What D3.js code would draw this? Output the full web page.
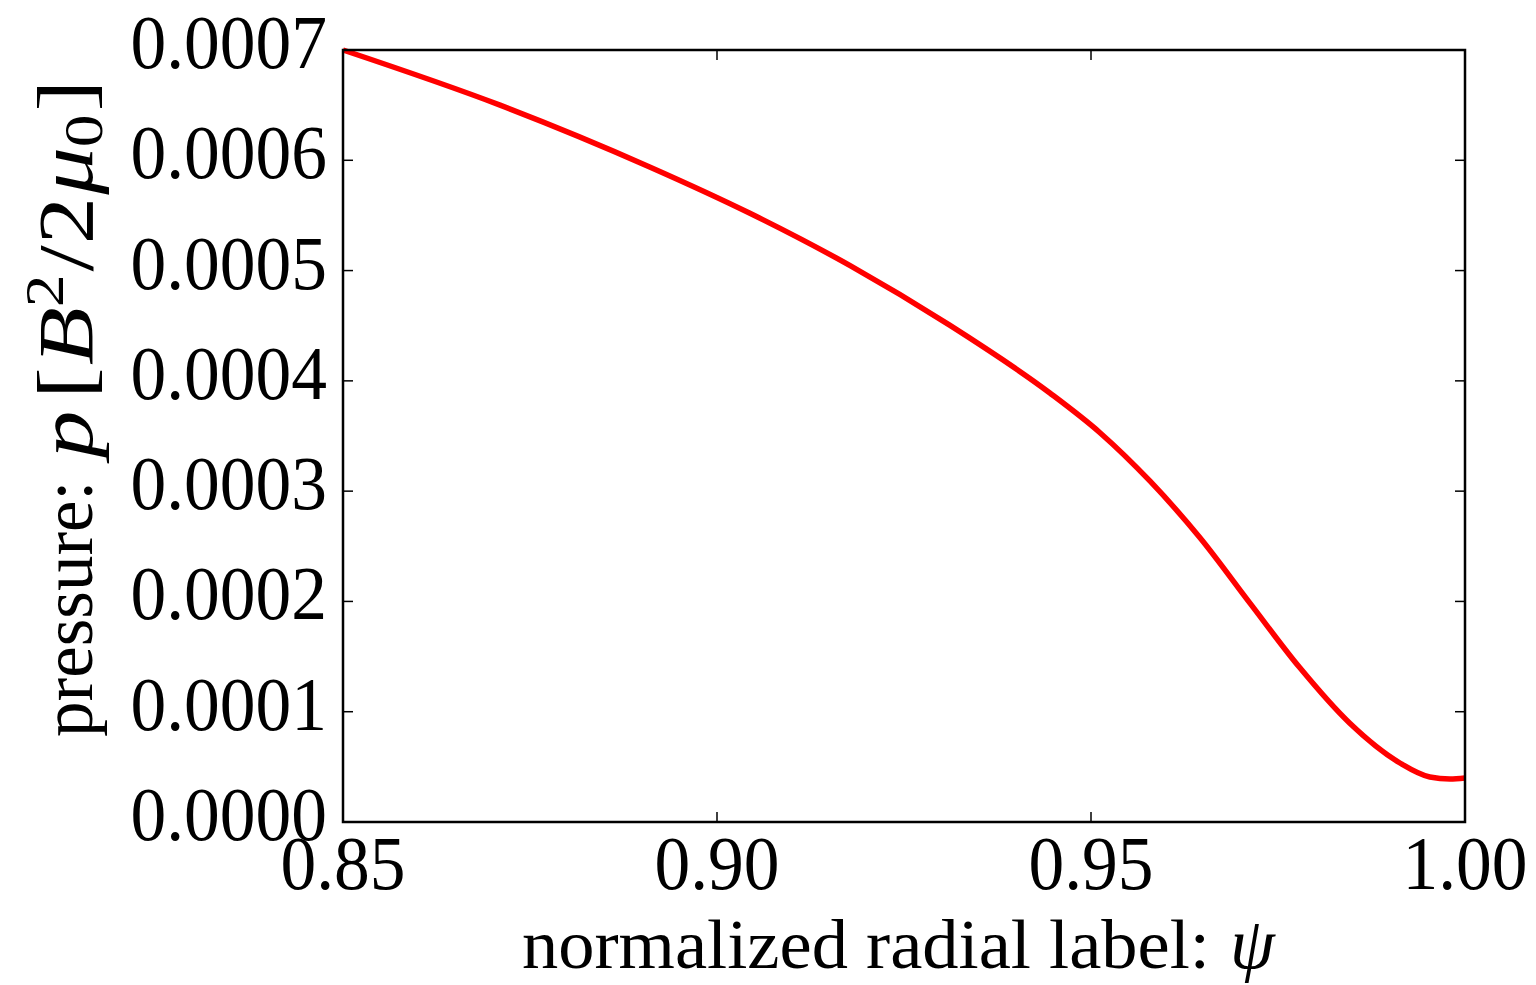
<!DOCTYPE html>
<html>
<head>
<meta charset="utf-8">
<script src="https://cdn.jsdelivr.net/npm/d3@7"></script>
<style>
  html, body { margin: 0; padding: 0; background: #fff; }
  svg { display: block; }
  text { font-family: "Liberation Serif", "DejaVu Serif", serif; fill: #000; }
</style>
</head>
<body>
<svg id="chart" width="1536" height="985"></svg>
<script>
// Data
const psi = [0.8500, 0.8710, 0.8910, 0.9044, 0.9178, 0.9311, 0.9445, 0.9512, 0.9579,
             0.9646, 0.9713, 0.9779, 0.9846, 0.9913, 0.9953, 0.9980, 1.0000];
const pressure = [7.00e-4, 6.50e-4, 5.94e-4, 5.52e-4, 5.045e-4, 4.505e-4, 3.89e-4, 3.53e-4, 3.09e-4,
                  2.575e-4, 1.98e-4, 1.40e-4, 8.95e-5, 5.35e-5, 4.08e-5, 3.90e-5, 3.99e-5];
const xTicks = [0.85, 0.90, 0.95, 1.00];
const xTickLabels = ["0.85", "0.90", "0.95", "1.00"];
const yTicks = [0, 0.0001, 0.0002, 0.0003, 0.0004, 0.0005, 0.0006, 0.0007];
const yTickLabels = ["0.0000", "0.0001", "0.0002", "0.0003", "0.0004", "0.0005", "0.0006", "0.0007"];

const svg = d3.select("#chart");
const L = 343, R = 1465, T = 50, B = 822;
const x = d3.scaleLinear().domain([0.85, 1.00]).range([L, R]);
const y = d3.scaleLinear().domain([0, 0.0007]).range([B, T]);

// curve
const line = d3.line().x((d, i) => x(psi[i])).y(d => y(d)).curve(d3.curveMonotoneX);
svg.append("path").datum(pressure)
  .attr("d", line)
  .attr("fill", "none").attr("stroke", "#ff0000").attr("stroke-width", 5.5);

// ticks (inside, both sides)
const tickLen = 10;
const tg = svg.append("g").attr("stroke", "#000").attr("stroke-width", 1.5);
xTicks.forEach(v => {
  tg.append("line").attr("x1", x(v)).attr("x2", x(v)).attr("y1", B).attr("y2", B - tickLen);
  tg.append("line").attr("x1", x(v)).attr("x2", x(v)).attr("y1", T).attr("y2", T + tickLen);
});
yTicks.forEach(v => {
  tg.append("line").attr("x1", L).attr("x2", L + tickLen).attr("y1", y(v)).attr("y2", y(v));
  tg.append("line").attr("x1", R).attr("x2", R - tickLen).attr("y1", y(v)).attr("y2", y(v));
});

// frame
svg.append("rect").attr("x", L).attr("y", T).attr("width", R - L).attr("height", B - T)
  .attr("fill", "none").attr("stroke", "#000").attr("stroke-width", 2.5);

// condense helper: narrow glyphs horizontally
function condense(sel, f) {
  sel.each(function() {
    const w = this.getComputedTextLength();
    d3.select(this).attr("textLength", w * f).attr("lengthAdjust", "spacingAndGlyphs");
  });
}

// tick labels
const fs = 76;
const xt = svg.append("g").selectAll("text").data(xTicks).join("text")
  .attr("x", d => x(d)).attr("y", B + 67)
  .attr("text-anchor", "middle").attr("font-size", fs)
  .text((d, i) => xTickLabels[i]);
condense(xt, 0.94);
const yt = svg.append("g").selectAll("text").data(yTicks).join("text")
  .attr("x", L - 16).attr("y", d => y(d) + 18)
  .attr("text-anchor", "end").attr("font-size", fs)
  .text((d, i) => yTickLabels[i]);
condense(yt, 0.94);

// x label
const xl1 = svg.append("text").attr("x", 522).attr("y", 968)
  .attr("font-size", 70).text("normalized radial label:");
xl1.attr("textLength", 688).attr("lengthAdjust", "spacingAndGlyphs");
svg.append("text").attr("x", 1230).attr("y", 968)
  .attr("font-size", 72).attr("font-style", "italic").text("ψ");

// y label (rotated; text-x = -screenY, text-y = screenX)
const yl = svg.append("g").attr("transform", "rotate(-90)");
const base = 92;
yl.append("text").attr("x", -737).attr("y", base).attr("font-size", 71).text("pressure:");
// math part laid out as a chain, stretched slightly along the text, spanning the reference extent
const parts = [
  { t: "p", it: true, fs: 78, dy: 0, gap: 12 },
  { t: "[", it: false, fs: 78, dy: 0, gap: 2 },
  { t: "B", it: true, fs: 78, dy: 0, gap: 0 },
  { t: "2", it: false, fs: 54, dy: -29, gap: 3 },
  { t: "/", it: false, fs: 78, dy: 0, gap: 1 },
  { t: "2", it: false, fs: 78, dy: 0, gap: 2 },
  { t: "μ", it: true, fs: 78, dy: 0, gap: 0 },
  { t: "0", it: false, fs: 54, dy: 10, gap: 3 },
  { t: "]", it: false, fs: 78, dy: 0, gap: 0 }
];
const mStart = -458, mEnd = -80;
const nodes = parts.map(p => yl.append("text").attr("y", base + p.dy)
  .attr("font-size", p.fs).attr("font-style", p.it ? "italic" : "normal").text(p.t));
const widths = nodes.map(n => n.node().getComputedTextLength());
const gapSum = d3.sum(parts, p => p.gap);
const stretch = (mEnd - mStart - gapSum) / d3.sum(widths);
let cx = mStart;
nodes.forEach((n, i) => {
  const w = widths[i] * stretch;
  n.attr("x", cx).attr("textLength", w).attr("lengthAdjust", "spacingAndGlyphs");
  cx += w + parts[i].gap;
});
</script>
</body>
</html>
